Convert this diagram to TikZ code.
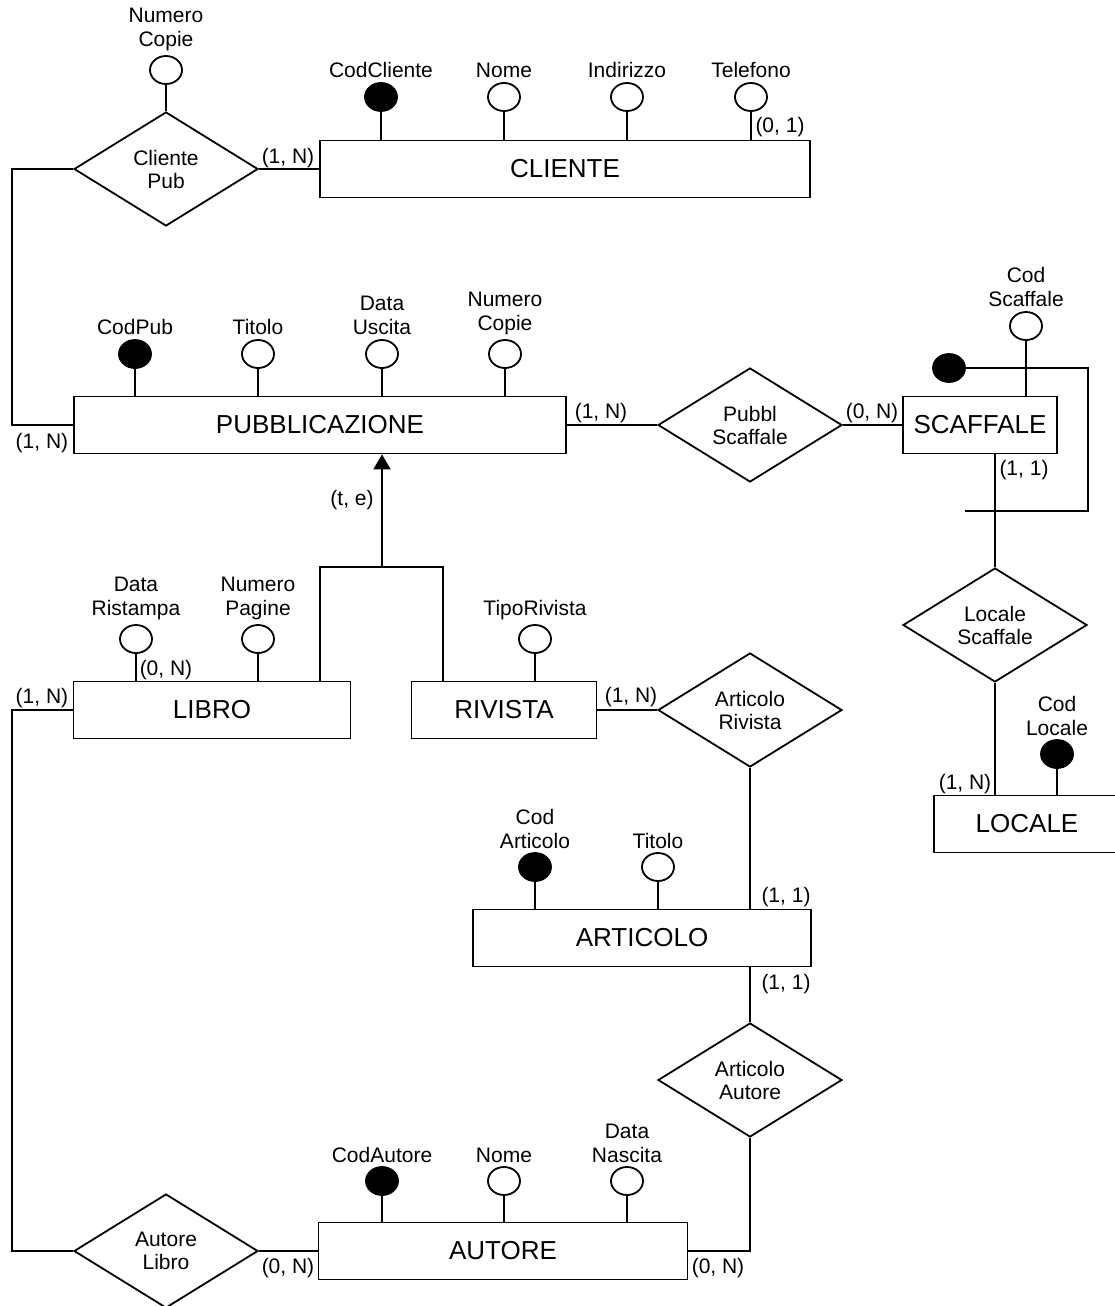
\documentclass[tikz,border=0pt]{standalone}
\usepackage{fontspec}
\setmainfont{Liberation Sans}
\usetikzlibrary{shapes.geometric,arrows.meta}
\tikzset{
  entity/.style={draw,minimum height=57pt,inner sep=0pt,font=\fontsize{26}{30}\selectfont},
  rel/.style={draw,diamond,minimum width=184pt,minimum height=114pt,inner sep=0pt,align=center,font=\fontsize{21}{23}\selectfont},
  attr/.style={draw,ellipse,minimum width=32pt,minimum height=28pt,inner sep=0pt},
  keyattr/.style={attr,fill=black},
  lab/.style={inner sep=0pt,align=center,font=\fontsize{21}{24}\selectfont},
}
\begin{document}
\begin{tikzpicture}[x=1pt,y=-1pt,line width=1.8pt]
\useasboundingbox (0,0) rectangle (1115,1306);
% entita'
\node[entity,minimum width=490pt] (cliente) at (565,169) {CLIENTE};
\node[entity,minimum width=492pt] (pub) at (320,425) {PUBBLICAZIONE};
\node[entity,minimum width=154pt] (scaf) at (980,425) {SCAFFALE};
\node[entity,minimum width=186pt] (locale) at (1027,824) {LOCALE};
\node[entity,minimum width=277pt] (libro) at (212,710) {LIBRO};
\node[entity,minimum width=185pt] (rivista) at (504,710) {RIVISTA};
\node[entity,minimum width=338pt] (articolo) at (642,938) {ARTICOLO};
\node[entity,minimum width=369pt] (autore) at (503,1251) {AUTORE};
% relazioni
\node[rel] (clipub) at (166,169) {Cliente\\Pub};
\node[rel] (pubscaf) at (750,425) {Pubbl\\Scaffale};
\node[rel] (locscaf) at (995,625) {Locale\\Scaffale};
\node[rel] (artriv) at (750,710) {Articolo\\Rivista};
\node[rel] (artaut) at (750,1080) {Articolo\\Autore};
\node[rel] (autlib) at (166,1251) {Autore\\Libro};
% attributi
\node[attr] (ncop) at (166,70) {}; \node[lab,above=3pt] (ncopL) at (ncop.north) {Numero\\Copie};
\node[keyattr] (codcli) at (381,97) {}; \node[lab,above=3pt] (codcliL) at (codcli.north) {CodCliente};
\node[attr] (nomecli) at (504,97) {}; \node[lab,above=3pt] (nomecliL) at (nomecli.north) {Nome};
\node[attr] (indcli) at (627,97) {}; \node[lab,above=3pt] (indcliL) at (indcli.north) {Indirizzo};
\node[attr] (telcli) at (751,97) {}; \node[lab,above=3pt] (telcliL) at (telcli.north) {Telefono};
\node[keyattr] (codpub) at (135,354) {}; \node[lab,above=3pt] (codpubL) at (codpub.north) {CodPub};
\node[attr] (titpub) at (258,354) {}; \node[lab,above=3pt] (titpubL) at (titpub.north) {Titolo};
\node[attr] (datapub) at (382,354) {}; \node[lab,above=3pt] (datapubL) at (datapub.north) {Data\\Uscita};
\node[attr] (ncpub) at (505,354) {}; \node[lab,above=3pt] (ncpubL) at (ncpub.north) {Numero\\Copie};
\node[attr] (codscaf) at (1026,326) {}; \node[lab,above=3pt] (codscafL) at (codscaf.north) {Cod\\Scaffale};
\node[keyattr] (extid) at (949,368) {};
\node[keyattr] (codloc) at (1057,754) {}; \node[lab,above=3pt] (codlocL) at (codloc.north) {Cod\\Locale};
\node[attr] (datalib) at (136,639) {}; \node[lab,above=3pt] (datalibL) at (datalib.north) {Data\\Ristampa};
\node[attr] (npag) at (258,639) {}; \node[lab,above=3pt] (npagL) at (npag.north) {Numero\\Pagine};
\node[attr] (tipriv) at (535,639) {}; \node[lab,above=3pt] (tiprivL) at (tipriv.north) {TipoRivista};
\node[keyattr] (codart) at (535,867) {}; \node[lab,above=3pt] (codartL) at (codart.north) {Cod\\Articolo};
\node[attr] (titart) at (658,867) {}; \node[lab,above=3pt] (titartL) at (titart.north) {Titolo};
\node[keyattr] (codaut) at (382,1181) {}; \node[lab,above=3pt] (codautL) at (codaut.north) {CodAutore};
\node[attr] (nomeaut) at (504,1181) {}; \node[lab,above=3pt] (nomeautL) at (nomeaut.north) {Nome};
\node[attr] (dataaut) at (627,1181) {}; \node[lab,above=3pt] (dataautL) at (dataaut.north) {Data\\Nascita};
% linee degli attributi
\draw (ncop.south) -- (clipub.north);
\foreach \a in {codcli,nomecli,indcli,telcli} \draw (\a.south) -- (\a.south |- cliente.north);
\foreach \a in {codpub,titpub,datapub,ncpub} \draw (\a.south) -- (\a.south |- pub.north);
\foreach \a in {datalib,npag} \draw (\a.south) -- (\a.south |- libro.north);
\foreach \a in {codart,titart} \draw (\a.south) -- (\a.south |- articolo.north);
\foreach \a in {codaut,nomeaut,dataaut} \draw (\a.south) -- (\a.south |- autore.north);
\draw (tipriv.south) -- (tipriv.south |- rivista.north);
\draw (codscaf.south) -- (codscaf.south |- scaf.north);
\draw (codloc.south) -- (codloc.south |- locale.north);
% collegamenti
\coordinate (k1) at (12,425); \coordinate (k2) at (12,1251);
\coordinate (e1) at (1088,511); \coordinate (e2) at (965,511);
\coordinate (isa) at (382,567); \coordinate (isaL) at (320,567); \coordinate (isaR) at (443,567);
\draw (clipub.east) -- (cliente.west);
\draw (clipub.west) -| (k1) -- (pub.west);
\draw (pub.east) -- (pubscaf.west); \draw (pubscaf.east) -- (scaf.west);
\draw (locscaf.north) -- (locscaf.north |- scaf.south);
\draw (locscaf.south) -- (locscaf.south |- locale.north);
\draw (extid.east) -| (e1) -- (e2);
\draw[-{Triangle[width=17pt,length=15pt]}] (isa) -- (isa |- pub.south);
\draw (isaL |- libro.north) -- (isaL) -- (isaR) -- (isaR |- rivista.north);
\draw (libro.west) -| (k2) -- (autlib.west);
\draw (autlib.east) -- (autore.west);
\draw (autore.east) -| (artaut.south);
\draw (artaut.north) -- (artaut.north |- articolo.south);
\draw (artriv.south) -- (artriv.south |- articolo.north);
\draw (rivista.east) -- (artriv.west);
% cardinalita'
\node[lab] (c1) at (288,158) {(1, N)};
\node[lab] (c2) at (780,127) {(0, 1)};
\node[lab] (c3) at (42,443) {(1, N)};
\node[lab] (c4) at (601,413) {(1, N)};
\node[lab] (c5) at (872,413) {(0, N)};
\node[lab] (c6) at (1024,470) {(1, 1)};
\node[lab] (c7) at (965,784) {(1, N)};
\node[lab] (c8) at (352,500) {(t, e)};
\node[lab] (c9) at (166,670) {(0, N)};
\node[lab] (c10) at (42,698) {(1, N)};
\node[lab] (c11) at (631,697) {(1, N)};
\node[lab] (c12) at (786,897) {(1, 1)};
\node[lab] (c13) at (786,984) {(1, 1)};
\node[lab] (c14) at (288,1268) {(0, N)};
\node[lab] (c15) at (718,1268) {(0, N)};
\end{tikzpicture}
\end{document}
